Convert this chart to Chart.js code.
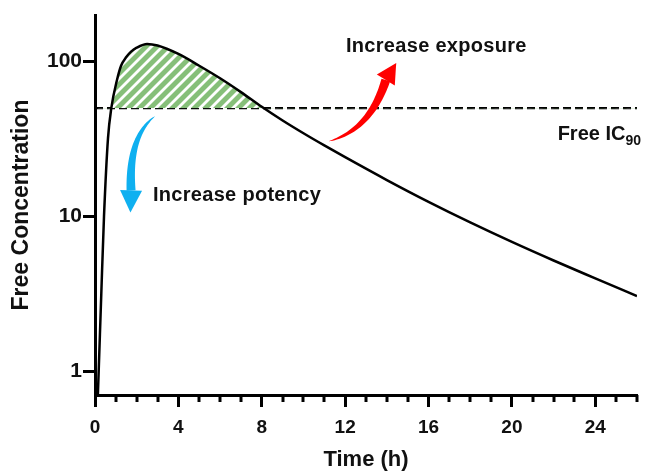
<!DOCTYPE html>
<html>
<head>
<meta charset="utf-8">
<script src="https://cdn.jsdelivr.net/npm/chart.js@4.4.1/dist/chart.umd.min.js"></script>
<style>
  html, body { margin: 0; padding: 0; background: #fff; }
  #wrap { width: 649px; height: 472px; }
</style>
</head>
<body>
<div id="wrap"><canvas id="myChart"></canvas></div>
<script>
// time (h) and free concentration
var times = [0.12, 0.177, 0.302, 0.432, 0.624, 0.782, 1.055, 1.25, 1.5, 1.73, 2, 2.5, 3, 4, 5, 6, 7, 8, 9, 10, 11, 12, 14, 16, 18, 20, 22, 24, 26];
var conc  = [0.6, 1, 3.16, 10, 32, 50, 76, 94, 107, 116, 123, 130, 127, 112, 94, 78, 63.5, 51, 41.6, 34.4, 28.7, 24.1, 17.15, 12.4, 9.13, 6.83, 5.18, 3.97, 3.05];
var ic90 = 50;
var icRange = [0, 26];
var xTickLabels = [0, 4, 8, 12, 16, 20, 24];
var yTickLabels = [1, 10, 100];

// annotation arrows in data units: tail, control, head base, tip
var bluePath = [[2.88, 44.4], [1.6, 33], [1.73, 14.7], [1.7, 10.6]];
var redPath  = [[11.2, 30.5], [13.2, 36], [13.95, 76], [14.45, 98]];

function hatch() {
    var c = document.createElement('canvas');
    var s = 11;
    c.width = s; c.height = s;
    var g = c.getContext('2d');
    g.fillStyle = '#86bf79';
    g.fillRect(0, 0, s, s);
    g.strokeStyle = '#ffffff';
    g.lineWidth = 2.8;
    [[0, s, s, 0], [-s, s, s, -s], [0, 2 * s, 2 * s, 0]].forEach(function(l) {
        g.beginPath(); g.moveTo(l[0], l[1]); g.lineTo(l[2], l[3]); g.stroke();
    });
    return g.createPattern(c, 'repeat');
}

function drawArrow(ctx, pts, color, shaftW, headW) {
    var p0 = pts[0], p1 = pts[1], p2 = pts[2], tip = pts[3];
    var n = 40, left = [], right = [];
    for (var i = 0; i <= n; i++) {
        var t = i / n, mt = 1 - t;
        var x = mt * mt * p0[0] + 2 * mt * t * p1[0] + t * t * p2[0];
        var y = mt * mt * p0[1] + 2 * mt * t * p1[1] + t * t * p2[1];
        var dx = 2 * mt * (p1[0] - p0[0]) + 2 * t * (p2[0] - p1[0]);
        var dy = 2 * mt * (p1[1] - p0[1]) + 2 * t * (p2[1] - p1[1]);
        var len = Math.hypot(dx, dy) || 1;
        var w = shaftW / 2 * Math.pow(t, 0.7);
        left.push([x - dy / len * w, y + dx / len * w]);
        right.push([x + dy / len * w, y - dx / len * w]);
    }
    ctx.fillStyle = color;
    ctx.beginPath();
    ctx.moveTo(left[0][0], left[0][1]);
    left.forEach(function(p) { ctx.lineTo(p[0], p[1]); });
    for (var j = right.length - 1; j >= 0; j--) ctx.lineTo(right[j][0], right[j][1]);
    ctx.closePath();
    ctx.fill();
    var hx = tip[0] - p2[0], hy = tip[1] - p2[1], hl = Math.hypot(hx, hy);
    var nx = -hy / hl, ny = hx / hl;
    ctx.beginPath();
    ctx.moveTo(tip[0], tip[1]);
    ctx.lineTo(p2[0] + nx * headW / 2, p2[1] + ny * headW / 2);
    ctx.lineTo(p2[0] - nx * headW / 2, p2[1] - ny * headW / 2);
    ctx.closePath();
    ctx.fill();
}

var extras = {
    id: 'extras',
    afterDraw: function(chart) {
        var ctx = chart.ctx, xs = chart.scales.x, ys = chart.scales.y;
        var area = chart.chartArea;
        var toPx = function(p) { return [xs.getPixelForValue(p[0]), ys.getPixelForValue(p[1])]; };
        ctx.save();
        // minor ticks every hour
        ctx.strokeStyle = '#000';
        ctx.lineWidth = 3;
        for (var i = 1; i <= 26; i++) {
            if (i % 4 === 0) continue;
            var px = Math.round(xs.getPixelForValue(i));
            ctx.beginPath();
            ctx.moveTo(px, area.bottom);
            ctx.lineTo(px, area.bottom + 7);
            ctx.stroke();
        }
        // arrows
        drawArrow(ctx, bluePath.map(toPx), '#0fb0f0', 9, 22);
        drawArrow(ctx, redPath.map(toPx), '#ff0000', 9, 21);
        // texts
        ctx.fillStyle = '#111';
        ctx.textBaseline = 'alphabetic';
        ctx.font = "bold 20px 'Liberation Sans', Arial, sans-serif";
        ctx.textAlign = 'left';
        ctx.letterSpacing = '0.3px';
        ctx.fillText('Increase exposure', xs.getPixelForValue(12.04), ys.getPixelForValue(115));
        ctx.fillText('Increase potency', xs.getPixelForValue(2.78), ys.getPixelForValue(12.5));
        ctx.letterSpacing = '0px';
        // Free IC90 label with subscript
        var yb = ys.getPixelForValue(ic90) + 32;
        ctx.font = "bold 14px 'Liberation Sans', Arial, sans-serif";
        var subW = ctx.measureText('90').width;
        var right = area.right + 4;
        ctx.fillText('90', right - subW, yb + 5);
        ctx.font = "bold 20px 'Liberation Sans', Arial, sans-serif";
        ctx.textAlign = 'right';
        ctx.fillText('Free IC', right - subW, yb);
        ctx.restore();
    }
};

var ctx = document.getElementById('myChart').getContext('2d');
Chart.defaults.font.family = "'Liberation Sans', Arial, sans-serif";
Chart.defaults.color = '#111';
var chart = new Chart(ctx, {
    type: 'line',
    data: {
        datasets: [{
            label: 'concentration',
            data: times.map(function(t, i) { return {x: t, y: conc[i]}; }),
            borderColor: '#000',
            borderWidth: 2.5,
            pointRadius: 0,
            cubicInterpolationMode: 'monotone',
            fill: {target: {value: ic90}, above: hatch(), below: 'rgba(0,0,0,0)'}
        }, {
            label: 'Free IC90',
            data: icRange.map(function(t) { return {x: t, y: ic90}; }),
            borderColor: '#000',
            borderWidth: 2.4,
            borderDash: [8, 4],
            pointRadius: 0,
            fill: false
        }]
    },
    options: {
        responsive: true,
        maintainAspectRatio: false,
        animation: false,
        layout: {padding: {top: 15, right: 12, left: 0, bottom: 0}},
        plugins: {legend: {display: false}, tooltip: {enabled: false}},
        scales: {
            x: {
                type: 'linear',
                min: 0,
                max: 26,
                afterBuildTicks: function(scale) {
                    scale.ticks = xTickLabels.map(function(v) { return {value: v}; });
                },
                afterFit: function(scale) { scale.height = 77; },
                ticks: {
                    font: {size: 19, weight: 'bold'},
                    padding: 9,
                    maxRotation: 0,
                    autoSkip: false,
                    callback: function(v) { return v; }
                },
                grid: {drawOnChartArea: false, drawTicks: true, tickLength: 12, tickWidth: 3, tickColor: '#000'},
                border: {display: true, color: '#000', width: 3},
                title: {display: true, text: 'Time (h)', font: {size: 22, weight: 'bold', lineHeight: 1}, padding: {top: 0, bottom: 1}}
            },
            y: {
                type: 'logarithmic',
                min: 0.7,
                max: 200,
                afterBuildTicks: function(scale) {
                    scale.ticks = yTickLabels.map(function(v) { return {value: v}; });
                },
                afterFit: function(scale) { scale.width = 95; },
                ticks: {
                    font: {size: 21, weight: 'bold'},
                    padding: 1,
                    callback: function(v) { return String(v); }
                },
                grid: {drawOnChartArea: false, drawTicks: true, tickLength: 12, tickWidth: 3, tickColor: '#000'},
                border: {display: true, color: '#000', width: 3},
                title: {display: true, text: 'Free Concentration', font: {size: 23, weight: 'bold', lineHeight: 1}, padding: {top: 10, bottom: 0}}
            }
        }
    },
    plugins: [extras]
});
</script>
</body>
</html>
